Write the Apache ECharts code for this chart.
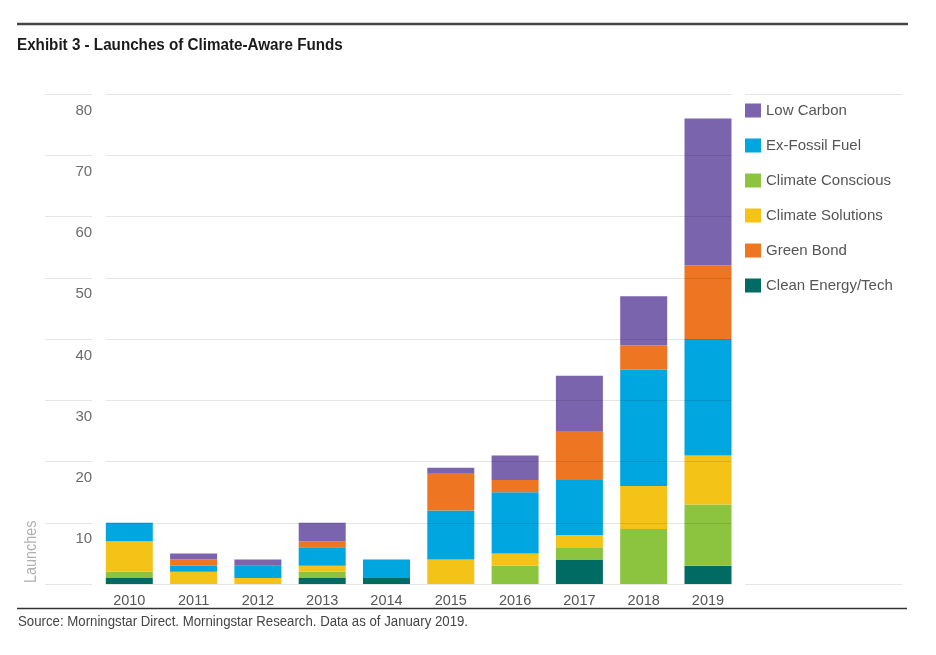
<!DOCTYPE html>
<html>
<head>
<meta charset="utf-8">
<script src="https://cdn.jsdelivr.net/npm/echarts@6/dist/echarts.min.js"></script>
<style>
html,body{margin:0;padding:0;background:#fff;}
#chart{width:936px;height:655px;}
</style>
</head>
<body>
<div id="chart"></div>
<script>
const years = ['2010','2011','2012','2013','2014','2015','2016','2017','2018','2019'];
const yTicks = [0,10,20,30,40,50,60,70,80];
// stacked bottom -> top
const cleanEnergyTech   = [1,0,0,1,1,0,0,4,0,3];
const climateConscious  = [1,0,0,1,0,0,3,2,9,10];
const climateSolutions  = [5,2,1,1,0,4,2,2,7,8];
const exFossilFuel      = [3,1,2,3,3,8,10,9,19,19];
const greenBond         = [0,1,0,1,0,6,2,8,4,12];
const lowCarbon         = [0,1,1,3,0,1,4,9,8,24];
const legendOrder = ['Low Carbon','Ex-Fossil Fuel','Climate Conscious','Climate Solutions','Green Bond','Clean Energy/Tech'];

const FONT = "'Liberation Sans Narrow', 'Liberation Sans', 'DejaVu Sans Condensed', sans-serif";
const colors = {
  'Clean Energy/Tech': '#006b63',
  'Climate Conscious': '#8cc43f',
  'Climate Solutions': '#f4c318',
  'Ex-Fossil Fuel': '#00a6df',
  'Green Bond': '#ee7623',
  'Low Carbon': '#7a64ad'
};
const stackSeries = [
  ['Clean Energy/Tech', cleanEnergyTech],
  ['Climate Conscious', climateConscious],
  ['Climate Solutions', climateSolutions],
  ['Ex-Fossil Fuel', exFossilFuel],
  ['Green Bond', greenBond],
  ['Low Carbon', lowCarbon]
];

const yMin = yTicks[0], yMax = yTicks[yTicks.length-1], yStep = yTicks[1]-yTicks[0];
const gridTop = 94, gridBottom = 71;
const lineStyle = {color: 'rgba(0,0,0,0.10)', width: 1};

const chart = echarts.init(document.getElementById('chart'), null, {renderer: 'canvas'});
const option = {
  backgroundColor: '#fff',
  animation: false,
  legend: {
    orient: 'vertical', left: 740, top: 98,
    data: legendOrder, icon: 'rect', itemWidth: 16, itemHeight: 14, itemGap: 20,
    selectedMode: false,
    textStyle: {fontFamily: FONT, fontSize: 15, color: '#555', lineHeight: 15}
  },
  graphic: [
    {type: 'line', shape: {x1: 17, y1: 24, x2: 908, y2: 24}, style: {stroke: '#444', lineWidth: 2.5}},
    {type: 'line', shape: {x1: 17, y1: 608.5, x2: 907, y2: 608.5}, style: {stroke: '#333', lineWidth: 1.5}},
    {type: 'text', x: 17, y: 46, scaleX: 0.95,
     style: {text: 'Exhibit 3 - Launches of Climate-Aware Funds', font: 'bold 16px ' + FONT, fill: '#1a1a1a',
             textAlign: 'left', textVerticalAlign: 'middle'}},
    {type: 'text', x: 18, y: 622.5, scaleX: 0.945,
     style: {text: 'Source: Morningstar Direct. Morningstar Research. Data as of January 2019.', font: '14px ' + FONT,
             fill: '#444', textAlign: 'left', textVerticalAlign: 'middle'}},
    {type: 'text', x: 32, y: 583, rotation: Math.PI/2, scaleX: 0.9,
     style: {text: 'Launches', font: '16px ' + FONT, fill: '#b0b0b0', textAlign: 'left', textVerticalAlign: 'middle'}}
  ],
  grid: [
    {left: 97.15, right: 936-740.15, top: gridTop, bottom: gridBottom},
    {left: 106, right: 936-731.7, top: gridTop, bottom: gridBottom},
    {left: 45, right: 936-92, top: gridTop, bottom: gridBottom},
    {left: 745, right: 936-902, top: gridTop, bottom: gridBottom}
  ],
  xAxis: [
    {gridIndex: 0, type: 'category', data: years, axisLine: {show: false}, axisTick: {show: false},
     axisLabel: {fontFamily: FONT, fontSize: 14.5, color: '#555', margin: 9}},
    {gridIndex: 1, type: 'value', min: 0, max: 1, show: false},
    {gridIndex: 2, type: 'value', min: 0, max: 1, show: false},
    {gridIndex: 3, type: 'value', min: 0, max: 1, show: false}
  ],
  yAxis: [
    {gridIndex: 0, type: 'value', min: yMin, max: yMax, interval: yStep,
     axisLine: {show: false}, axisTick: {show: false}, splitLine: {show: false},
     axisLabel: {fontFamily: FONT, fontSize: 15, color: '#6b6b6b', margin: 5,
       verticalAlign: 'top', lineHeight: 33,
       formatter: v => v === 0 ? '' : String(v)}},
    {gridIndex: 1, type: 'value', min: yMin, max: yMax, interval: yStep, z: 10,
     axisLine: {show: false}, axisTick: {show: false}, axisLabel: {show: false},
     splitLine: {show: true, lineStyle: lineStyle}},
    {gridIndex: 2, type: 'value', min: yMin, max: yMax, interval: yStep,
     axisLine: {show: false}, axisTick: {show: false}, axisLabel: {show: false},
     splitLine: {show: true, lineStyle: lineStyle}},
    {gridIndex: 3, type: 'value', min: yMin, max: yMax, interval: yMax - yMin,
     axisLine: {show: false}, axisTick: {show: false}, axisLabel: {show: false},
     splitLine: {show: true, lineStyle: lineStyle}}
  ],
  series: stackSeries.map(([name, data]) => ({
    name, type: 'bar', stack: 'total', data,
    xAxisIndex: 0, yAxisIndex: 0, barWidth: 47,
    itemStyle: {color: colors[name]},
    emphasis: {disabled: true}
  }))
};
chart.setOption(option);
</script>
</body>
</html>
